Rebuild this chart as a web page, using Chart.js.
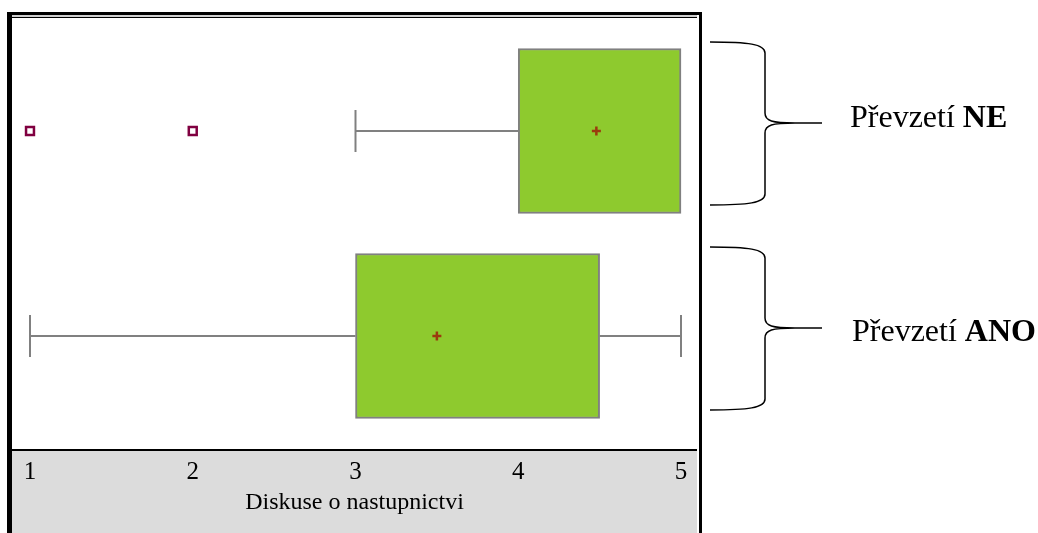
<!DOCTYPE html>
<html>
<head>
<meta charset="utf-8">
<script src="https://cdn.jsdelivr.net/npm/chart.js@4"></script>
<style>
  html, body { margin: 0; padding: 0; background: #ffffff; }
  #wrap { position: relative; width: 1038px; height: 533px; overflow: hidden; font-family: 'Liberation Serif', 'Times New Roman', serif; }
  .abs { position: absolute; }
  #outer { left: 7px; top: 12px; width: 689px; height: 530px; border: 3px solid #000; border-bottom: none; box-sizing: content-box; }
  #innerTop { left: 10px; top: 15px; width: 687px; height: 2px; background: #cfcfcf; }
  #innerTop2 { left: 10px; top: 17px; width: 687px; height: 1px; background: #000; }
  #innerLeft { left: 10px; top: 15px; width: 2px; height: 518px; background: #000; }
  #panel { left: 12px; top: 451px; width: 685px; height: 82px; background: #dcdcdc; }
  #plotBottom { left: 10px; top: 449px; width: 687px; height: 2px; background: #000; }
  canvas { position: absolute; left: 0; top: 0; }
  .lab { position: absolute; font-family: 'Liberation Serif', 'Times New Roman', serif; font-size: 32px; color: #000; white-space: nowrap; line-height: 1; }
</style>
</head>
<body>
<div id="wrap">
  <div class="abs" id="outer"></div>
  <div class="abs" id="innerTop"></div>
  <div class="abs" id="innerTop2"></div>
  <div class="abs" id="innerLeft"></div>
  <div class="abs" id="panel"></div>
  <div class="abs" id="plotBottom"></div>
  <canvas id="c" width="1038" height="533"></canvas>
  <div class="lab" id="labNE" style="left:850px; top:100px;">Převzetí <b>NE</b></div>
  <div class="lab" id="labANO" style="left:852px; top:314px;">Převzetí <b>ANO</b></div>
</div>
<script>
// ---- data ----
const categories = ['Převzetí NE', 'Převzetí ANO'];
const rowPos = [1, 0];
const q1 = [4, 3];
const q3 = [5, 4.5];
const whiskerLow = [3, 1];
const whiskerHigh = [5, 5];
const means = [4.48, 3.5];
const outlierValues = [[1, 2], []];
const tickValues = [1, 2, 3, 4, 5];
const axisTitle = 'Diskuse o nastupnictvi';

// ---- styles ----
const boxFill = '#8ECA2E';
const boxLine = '#808080';
const meanColor = '#9B3A0E';
const outlierColor = '#800040';
const capHalf = 0.1024;

const datasets = [];
datasets.push({
  type: 'bar',
  label: 'box',
  data: categories.map((c, i) => ({ y: rowPos[i], x: [q1[i], q3[i]] })),
  backgroundColor: boxFill,
  borderColor: boxLine,
  borderWidth: 2,
  borderSkipped: false,
  barThickness: 165,
  order: 5
});

function seg(points) {
  datasets.push({
    type: 'scatter',
    showLine: true,
    data: points,
    borderColor: boxLine,
    borderWidth: 2,
    pointRadius: 0,
    order: 6
  });
}
categories.forEach((c, i) => {
  const y = rowPos[i];
  if (whiskerLow[i] < q1[i]) {
    seg([{ x: whiskerLow[i], y: y }, { x: q1[i], y: y }]);
    seg([{ x: whiskerLow[i], y: y - capHalf }, { x: whiskerLow[i], y: y + capHalf }]);
  }
  if (whiskerHigh[i] > q3[i]) {
    seg([{ x: q3[i], y: y }, { x: whiskerHigh[i], y: y }]);
    seg([{ x: whiskerHigh[i], y: y - capHalf }, { x: whiskerHigh[i], y: y + capHalf }]);
  }
});

datasets.push({
  type: 'scatter',
  data: categories.map((c, i) => ({ x: means[i], y: rowPos[i] })),
  pointStyle: 'cross',
  pointRadius: 4.5,
  borderColor: meanColor,
  borderWidth: 2.5,
  order: 1
});

const outPts = [];
outlierValues.forEach((arr, i) => arr.forEach(v => outPts.push({ x: v, y: rowPos[i] })));
datasets.push({
  type: 'scatter',
  data: outPts,
  pointStyle: 'rect',
  pointRadius: 5.6,
  borderColor: outlierColor,
  backgroundColor: '#ffffff',
  borderWidth: 2.5,
  order: 1
});

// decorative braces on the right, centred near each row
const bracePlugin = {
  id: 'braces',
  afterDraw(chart) {
    const ctx = chart.ctx;
    const ys = chart.scales.y;
    ctx.save();
    ctx.strokeStyle = '#000';
    ctx.lineWidth = 1.5;
    rowPos.forEach((r) => {
      const cy = ys.getPixelForValue(r) - 8;
      const yTop = cy - 81, yBot = cy + 82;
      const xL = 710, xM = 765, xT = 822;
      ctx.beginPath();
      ctx.moveTo(xL, yTop);
      ctx.bezierCurveTo(748, yTop, xM, yTop + 2, xM, yTop + 11);
      ctx.lineTo(xM, cy - 10);
      ctx.bezierCurveTo(xM, cy - 2, 772, cy, 795, cy);
      ctx.lineTo(xT, cy);
      ctx.moveTo(795, cy);
      ctx.bezierCurveTo(772, cy, xM, cy + 2, xM, cy + 10);
      ctx.lineTo(xM, yBot - 11);
      ctx.bezierCurveTo(xM, yBot - 2, 748, yBot, xL, yBot);
      ctx.stroke();
    });
    ctx.restore();
  }
};

new Chart(document.getElementById('c'), {
  type: 'bar',
  data: { datasets: datasets },
  plugins: [bracePlugin],
  options: {
    indexAxis: 'y',
    responsive: false,
    animation: false,
    events: [],
    layout: { padding: { left: 12, right: 341, top: 18, bottom: 0 } },
    plugins: { legend: { display: false }, tooltip: { enabled: false } },
    scales: {
      x: {
        type: 'linear',
        position: 'bottom',
        offset: false,
        min: 0.8894,
        max: 5.0983,
        grid: { display: false, drawTicks: false },
        border: { display: false },
        afterBuildTicks: (s) => { s.ticks = tickValues.map(v => ({ value: v })); },
        afterFit: (s) => { s.height = 83; },
        ticks: {
          autoSkip: false,
          maxRotation: 0,
          padding: 7,
          color: '#000',
          font: { family: "'Liberation Serif', 'Times New Roman', serif", size: 25 }
        },
        title: {
          display: true,
          text: axisTitle,
          color: '#000',
          padding: { top: 0, bottom: 16 },
          font: { family: "'Liberation Serif', 'Times New Roman', serif", size: 24 }
        }
      },
      y: {
        type: 'linear',
        display: false,
        offset: false,
        grid: { offset: false },
        min: -0.5561,
        max: 1.5512
      }
    }
  }
});
</script>
</body>
</html>
